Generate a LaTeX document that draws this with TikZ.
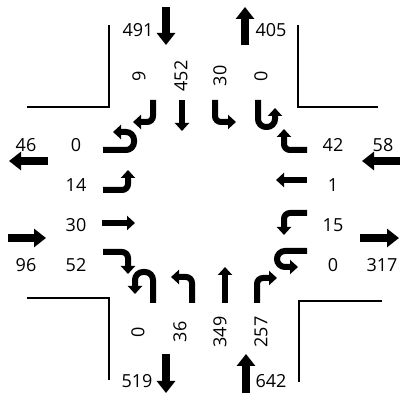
\documentclass[tikz,border=0pt]{standalone}
\usepackage{fontspec}
\setmainfont{Open Sans}
\usetikzlibrary{arrows.meta}

\begin{document}
\begin{tikzpicture}[x=1pt,y=-1pt]

    % --- Global Settings ---
    \tikzset{
        curb/.style={line width=2pt},
        lanearrow/.style={line width=6pt, rounded corners=6pt, -{Triangle[width=14pt,length=8pt]}},
        uturnarrow/.style={lanearrow, rounded corners=8pt},
        flowarrow/.style={line width=8.5pt, -{Triangle[width=18pt,length=12pt]}},
        vol/.style={font=\fontsize{18}{18}\selectfont, inner sep=0pt},
        vvol/.style={vol, rotate=90}
    }

    \useasboundingbox (0,0) rectangle (400,395);

    % --- Kerb corners ---
    \draw[curb] (27,107) -- (109,107) -- (109,25);
    \draw[curb] (298,25) -- (298,107) -- (378,107);
    \draw[curb] (27,298) -- (109,298) -- (109,380);
    \draw[curb] (299,382) -- (299,301) -- (382,301);

    % --- Approach and exit totals ---
    \draw[flowarrow] (166,7) -- (166,45);
    \draw[flowarrow] (245,45) -- (245,7);
    \draw[flowarrow] (48,161) -- (9,161);
    \draw[flowarrow] (8,238) -- (46,238);
    \draw[flowarrow] (400,161) -- (362,161);
    \draw[flowarrow] (360,238) -- (399,238);
    \draw[flowarrow] (166,354) -- (166,393);
    \draw[flowarrow] (246,393) -- (246,354);

    \foreach \txt/\x/\y [count=\i] in {491/138/30, 405/271/30, 46/26/145, 96/26/265,
                                        58/383/145, 317/382/265, 519/137/381, 642/271/381} {
        \node[vol] (tot\i) at (\x,\y) {\txt};
    }

    % --- North approach (southbound) ---
    \draw[lanearrow] (153,100) -- (153,122) -- (133,122);
    \draw[lanearrow] (182,100) -- (182,131);
    \draw[lanearrow] (215,100) -- (215,122) -- (236,122);
    \draw[uturnarrow] (258,100) -- (258,127) -- (275,127) -- (275,108);

    \foreach \txt/\x [count=\i] in {9/139, 452/181, 30/220, 0/261} {
        \node[vvol] (nv\i) at (\x,76) {\txt};
    }

    % --- West approach (eastbound) ---
    \draw[uturnarrow] (103,150) -- (134,150) -- (134,132) -- (113,132);
    \draw[lanearrow] (103,190) -- (128,190) -- (128,170);
    \draw[lanearrow] (102,223) -- (135,223);
    \draw[lanearrow] (103,252) -- (128,252) -- (128,274);

    \foreach \txt/\y [count=\i] in {0/145, 14/185, 30/225, 52/265} {
        \node[vol] (wv\i) at (76,\y) {\txt};
    }

    % --- East approach (westbound) ---
    \draw[lanearrow] (307,150) -- (284,150) -- (284,129);
    \draw[lanearrow] (307,180) -- (276,180);
    \draw[lanearrow] (307,213) -- (284,213) -- (284,235);
    \draw[uturnarrow] (307,251) -- (277,251) -- (277,267) -- (298,267);

    \foreach \txt/\y [count=\i] in {42/145, 1/185, 15/225, 0/265} {
        \node[vol] (ev\i) at (333,\y) {\txt};
    }

    % --- South approach (northbound) ---
    \draw[uturnarrow] (153,303) -- (153,272) -- (135,272) -- (135,294);
    \draw[lanearrow] (192,303) -- (192,277) -- (171,277);
    \draw[lanearrow] (225,303) -- (225,267);
    \draw[lanearrow] (257,303) -- (257,278) -- (277,278);

    \foreach \txt/\x [count=\i] in {0/138, 36/180, 349/220, 257/261} {
        \node[vvol] (sv\i) at (\x,332) {\txt};
    }

\end{tikzpicture}
\end{document}
